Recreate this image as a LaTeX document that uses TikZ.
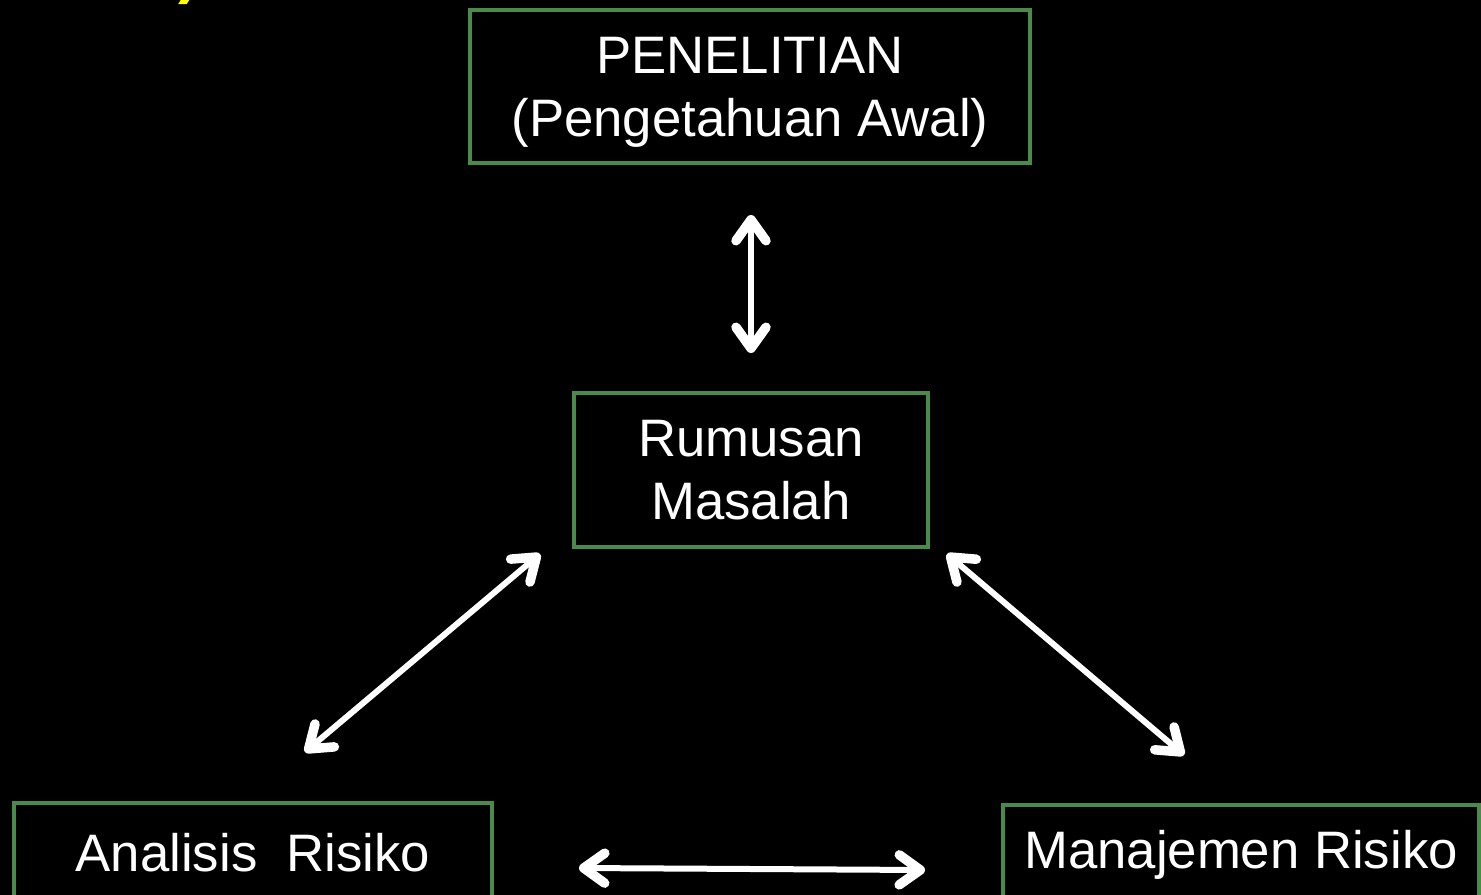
\documentclass[tikz,border=0pt]{standalone}
\usepackage{fontspec}
\setmainfont{Liberation Sans}
\usetikzlibrary{arrows.meta}
\definecolor{boxgreen}{RGB}{74,138,74}
\definecolor{titleyellow}{RGB}{255,255,0}

\tikzset{
    box/.style={draw=boxgreen, line width=0.08cm, text=white, align=center,
        inner sep=0pt, font=\fontsize{30}{36}\selectfont},
    link/.style={white, line width=0.12cm,
        {Straight Barb[length=0.42cm, width=0.6cm, round, line width=0.19cm]}-{Straight Barb[length=0.42cm, width=0.6cm, round, line width=0.19cm]}}
}

\begin{document}
\begin{tikzpicture}
    \fill[black] (0, 0) rectangle (29.62, -17.9);
    \useasboundingbox (0, 0) rectangle (29.62, -17.9);
    \clip (0, 0) rectangle (29.62, -17.9);

    % title from the slide above, cut off
    \node[text=titleyellow, font=\fontsize{36}{36}\selectfont\bfseries, anchor=south] (title) at (3.78, -0.22) {)};

    \node[box, text depth=0pt, minimum width=11.2cm, minimum height=3.06cm] (pen) at (15.0, -1.73) {PENELITIAN\\(Pengetahuan Awal)};
    \node[box, minimum width=7.08cm, minimum height=3.08cm] (rum) at (15.02, -9.4) {Rumusan\\Masalah};
    \node[box, minimum width=9.56cm, minimum height=2.0cm] (ana) at (5.06, -17.06) {Analisis\ \ Risiko};
    \node[box, minimum width=9.52cm, minimum height=2.0cm] (man) at (24.82, -17.1) {Manajemen Risiko};

    \draw[link] ([shift={(0.02,-1.0)}]pen.south) -- ([yshift=0.76cm]rum.north);
    \draw[link] ([shift={(-0.64,-0.1)}]rum.south west) -- ([shift={(1.04,0.98)}]ana.north);
    \draw[link] ([shift={(0.34,-0.1)}]rum.south east) -- ([shift={(-1.14,0.96)}]man.north);
    \draw[link] ([shift={(1.7,-0.3)}]ana.east) -- ([shift={(-1.52,-0.3)}]man.west);
\end{tikzpicture}
\end{document}
